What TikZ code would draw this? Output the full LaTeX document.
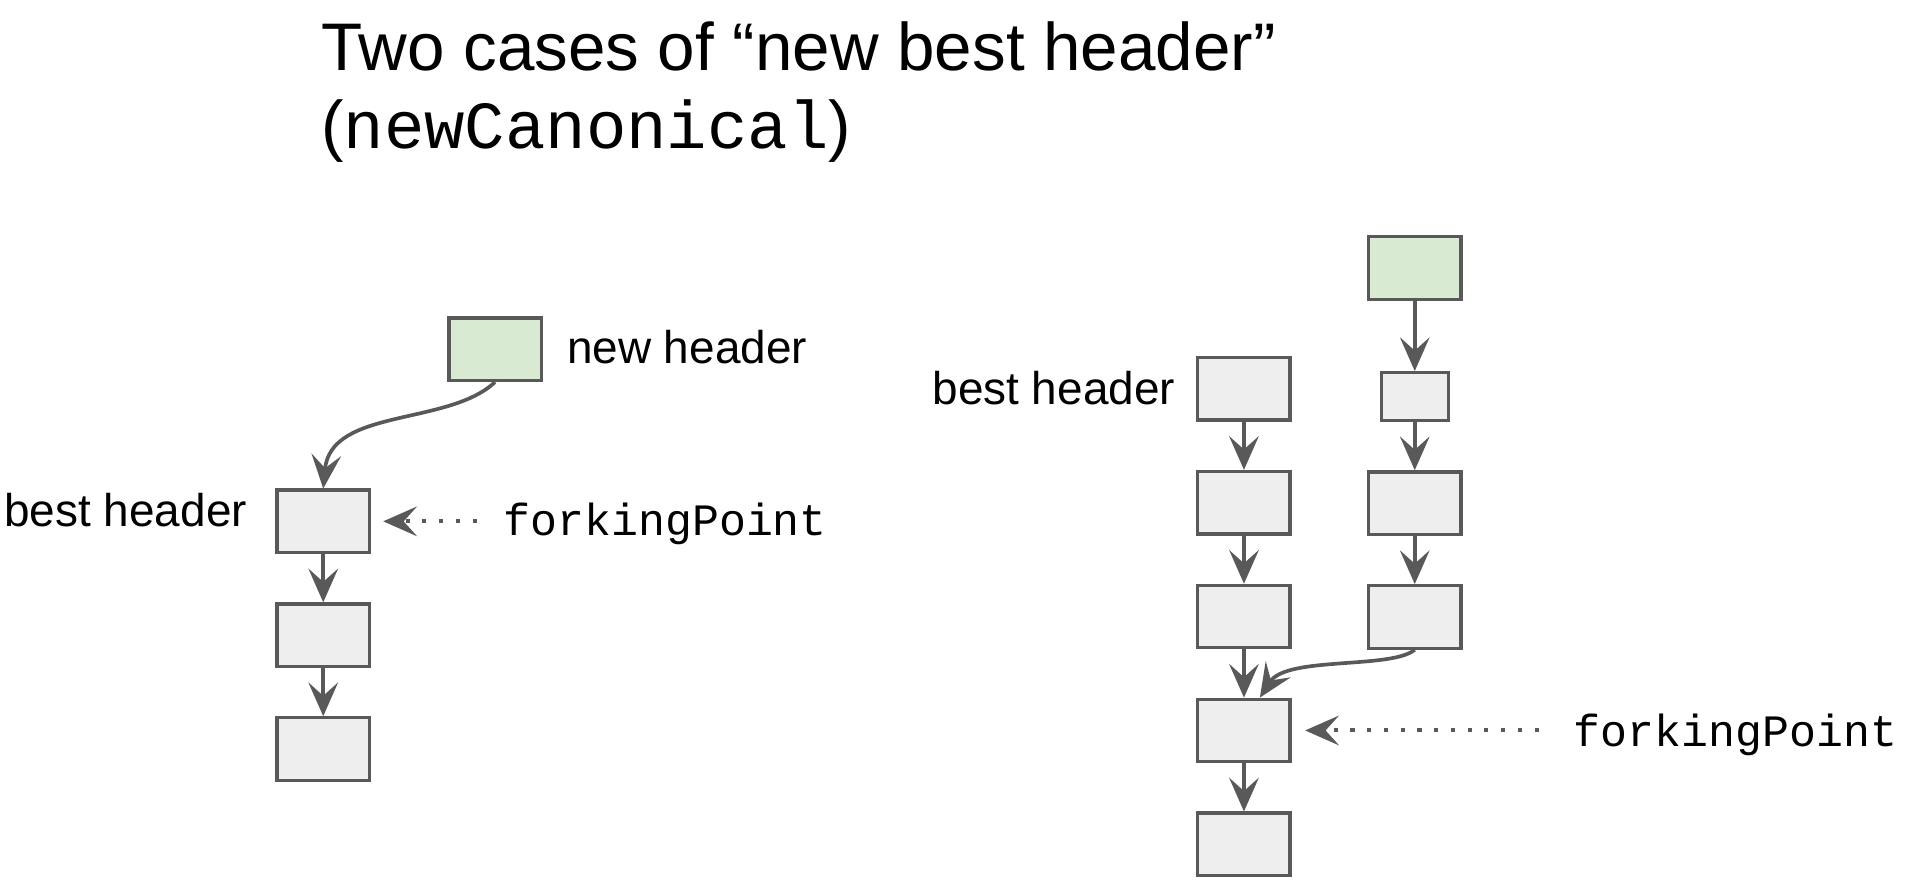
\documentclass[tikz,border=0pt]{standalone}
\usepackage{fontspec}
\setmainfont{Liberation Sans}
\newfontfamily\codefont{Liberation Mono}
\usetikzlibrary{arrows.meta,positioning,calc}
\definecolor{hdrline}{HTML}{595959}
\definecolor{hdrfill}{HTML}{EEEEEE}
\definecolor{newfill}{HTML}{D9EAD3}

\begin{document}
\begin{tikzpicture}[x=0.6pt,y=-0.6pt,
  hdr/.style={draw=hdrline,fill=hdrfill,line width=1.6pt,minimum width=45.2pt,minimum height=30.6pt,inner sep=0pt},
  newhdr/.style={hdr,fill=newfill},
  smallhdr/.style={hdr,minimum width=32.8pt,minimum height=23.4pt},
  link/.style={draw=hdrline,line width=1.8pt,-{Stealth[length=16.5pt,width=14.5pt,inset=6.5pt]}},
  fplink/.style={link,line width=2pt,dash pattern=on 2pt off 6.2pt},
  lbl/.style={inner sep=0pt,font=\fontsize{22.5}{27}\selectfont},
  code/.style={inner sep=0pt,font=\fontsize{22}{26}\codefont},
  ttl/.style={inner sep=0pt,anchor=base west,font=\fontsize{33}{40}\selectfont}]
\useasboundingbox (0,0) rectangle (1560,723.6);

% title
\node[ttl] (title) at (262,57.7) {Two cases of “new best header”};
\node[ttl] (subtitle) at ([yshift=-38pt]title.base west) {({\codefont newCanonical})};

% case 1: new header on top of best header
\node[newhdr] (newL) at (404.3,285.2) {};
\node[hdr] (bestL) at (264,425.8) {};
\node[hdr,below=23.6pt of bestL] (prevL) {};
\node[hdr,below=23.6pt of prevL] (rootL) {};
\node[lbl,anchor=base west] (newLlbl) at ([xshift=11.7pt,yshift=-6.9pt]newL.east) {new header};
\node[lbl,anchor=base east] (bestLlbl) at ([xshift=-13.8pt,yshift=-2.5pt]bestL.west) {best header};
\node[code,anchor=base west] (fpL) at ([xshift=64.8pt,yshift=-6.7pt]bestL.east) {forkingPoint};

\draw[link] (newL.south) .. controls +(-38,36) and +(6,-66) .. (bestL.north);
\draw[link] (bestL) -- (prevL);
\draw[link] (prevL) -- (rootL);
\draw[fplink,shorten <=13pt,shorten >=6pt] (fpL.west |- bestL.east) -- (bestL.east);

% case 2: new header on a side branch
\node[hdr] (bestR) at (1016,317.6) {};
\node[hdr,below=23.6pt of bestR] (oldR2) {};
\node[hdr,below=23.6pt of oldR2] (oldR3) {};
\node[hdr,below=23.6pt of oldR3] (forkR) {};
\node[hdr,below=23.6pt of forkR] (rootR) {};
\node[smallhdr] (sideR1) at (1155.5,323.9) {};
\node[newhdr,above=34.4pt of sideR1] (newR) {};
\node[hdr,below=23.6pt of sideR1] (sideR2) {};
\node[hdr,below=23.6pt of sideR2] (sideR3) {};
\node[lbl,anchor=base east] (bestRlbl) at ([xshift=-10.2pt,yshift=-7.9pt]bestR.west) {best header};
\node[code,anchor=base west] (fpR) at ([xshift=138pt,yshift=-7.9pt]forkR.east) {forkingPoint};

\foreach \a/\b in {bestR/oldR2,oldR2/oldR3,oldR3/forkR,forkR/rootR,newR/sideR1,sideR1/sideR2,sideR2/sideR3}
  \draw[link] (\a) -- (\b);
\draw[link] (sideR3.south) .. controls +(-20,16) and +(22,-34) .. ([xshift=7.8pt]forkR.north);
\draw[fplink,shorten <=17pt,shorten >=6.6pt] (fpR.west |- forkR.east) -- (forkR.east);
\end{tikzpicture}
\end{document}
